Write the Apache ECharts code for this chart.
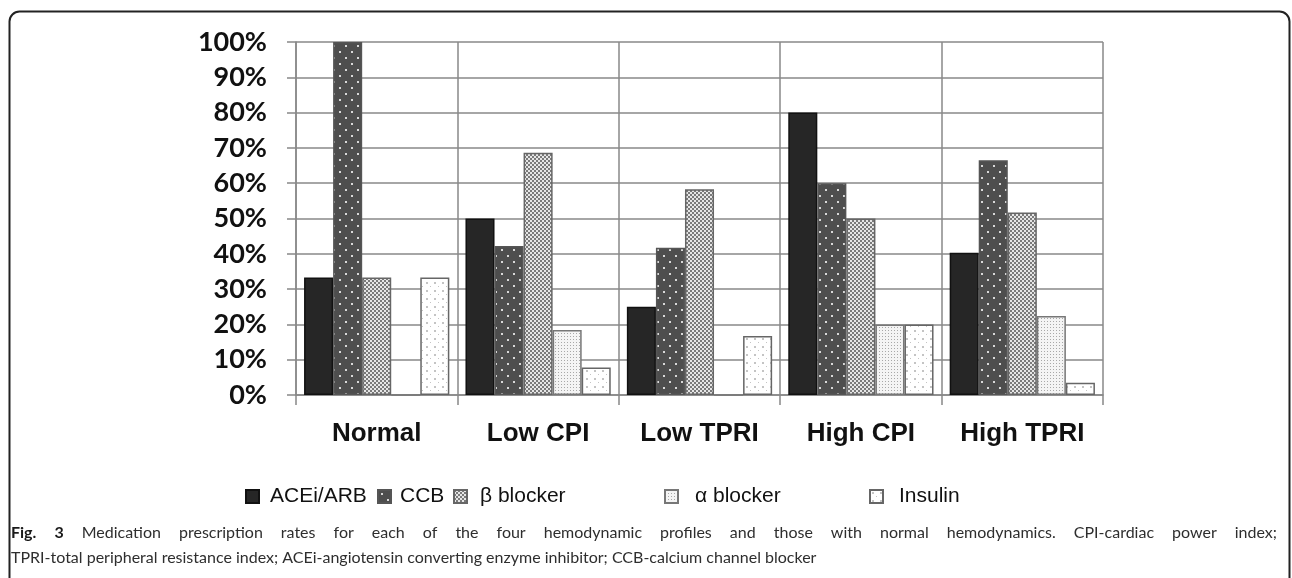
<!DOCTYPE html>
<html>
<head>
<meta charset="utf-8">
<script src="https://cdn.jsdelivr.net/npm/echarts@6/dist/echarts.min.js"></script>
<style>
  html, body { margin: 0; padding: 0; background: #ffffff; }
  #chart { width: 1292px; height: 578px; }
</style>
</head>
<body>
<div id="chart"></div>
<script>
// Hemodynamic profile groups
const categories = ['Normal', 'Low CPI', 'Low TPRI', 'High CPI', 'High TPRI'];

// Prescription rates (%) per medication class
const aceiArb    = [33.3, 50.0, 25.0, 80.0, 40.3];
const ccb        = [100.0, 42.2, 41.7, 60.0, 66.5];
const betaBlock  = [33.3, 68.6, 58.3, 50.0, 51.7];
const alphaBlock = [0, 18.4, 0, 20.0, 22.4];
const insulin    = [33.3, 7.8, 16.7, 20.0, 3.5];

const seriesNames = ['ACEi/ARB', 'CCB', 'β blocker', 'α blocker', 'Insulin'];

const yTicks = { min: 0, max: 100, interval: 10 };

const captionLine1 = 'Fig. 3 Medication prescription rates for each of the four hemodynamic profiles and those with normal hemodynamics. CPI-cardiac power index;';
const captionLine2 = 'TPRI-total peripheral resistance index; ACEi-angiotensin converting enzyme inhibitor; CCB-calcium channel blocker';

// Small tiled canvases used as bar fill patterns
function makeTile(size, bg, paint) {
  const c = document.createElement('canvas');
  c.width = size; c.height = size;
  const g = c.getContext('2d');
  g.fillStyle = bg;
  g.fillRect(0, 0, size, size);
  paint(g);
  return c;
}

const solidDark = '#262626';

const dotsOnDark = makeTile(12, '#4e4e4e', g => {
  g.fillStyle = '#d8d8d8';
  g.fillRect(3, 3, 2, 2);
  g.fillRect(9, 9, 2, 2);
});

const fineChecker = makeTile(4, '#e6e6e6', g => {
  g.fillStyle = '#7a7a7a';
  g.fillRect(0, 0, 2, 2);
  g.fillRect(2, 2, 2, 2);
});

const lightDots = makeTile(3, '#f4f4f4', g => {
  g.fillStyle = '#a8a8a8';
  g.fillRect(0, 0, 1, 1);
});

const sparseDots = makeTile(8, '#ffffff', g => {
  g.fillStyle = '#c4c4c4';
  g.fillRect(2, 2, 2, 2);
  g.fillRect(6, 6, 1, 1);
});

const fills = [
  { color: solidDark, borderColor: '#111111' },
  { color: { image: dotsOnDark, repeat: 'repeat' }, borderColor: '#555555' },
  { color: { image: fineChecker, repeat: 'repeat' }, borderColor: '#666666' },
  { color: { image: lightDots, repeat: 'repeat' }, borderColor: '#777777' },
  { color: { image: sparseDots, repeat: 'repeat' }, borderColor: '#666666' }
];

const seriesData = [aceiArb, ccb, betaBlock, alphaBlock, insulin];

const series = seriesNames.map((name, i) => ({
  name: name,
  type: 'bar',
  data: seriesData[i],
  barGap: '0%',
  barCategoryGap: '10%',
  itemStyle: {
    color: fills[i].color,
    borderColor: fills[i].borderColor,
    borderWidth: 1.5
  },
  emphasis: { disabled: true },
  animation: false
}));

// One legend block per entry so each sits at its own spot in the row
const legendLefts = [245, 377, 453, 664, 869];
const legendTextGaps = [11, 9, 13, 17, 16];
const legends = seriesNames.map((name, i) => ({
  data: [name],
  left: legendLefts[i],
  top: 486,
  padding: 0,
  icon: 'rect',
  itemWidth: 13,
  itemHeight: 13,
  selectedMode: false,
  textStyle: {
    fontFamily: 'Liberation Sans, Arial, sans-serif',
    fontSize: 21,
    color: '#111111',
    padding: [0, 0, 0, legendTextGaps[i] - 5]
  }
}));

// Caption: first line is justified across the frame, second line is left aligned
const capFont = 'Lato, Open Sans, sans-serif';
const capSize = 16;
const capLeft = 11, capRight = 1277;
const capTop1 = 525, capTop2 = 550;

function buildJustifiedLine(text, boldWords, top) {
  const ctx = document.createElement('canvas').getContext('2d');
  const words = text.split(' ');
  const widths = words.map((w, i) => {
    ctx.font = (i < boldWords ? 'bold ' : '') + capSize + 'px ' + capFont;
    return ctx.measureText(w).width;
  });
  const total = widths.reduce((a, b) => a + b, 0);
  const gap = (capRight - capLeft - total) / (words.length - 1);
  let x = capLeft;
  return words.map((w, i) => {
    const el = {
      type: 'text',
      silent: true,
      x: x,
      y: top,
      style: {
        text: w,
        fontFamily: capFont,
        fontSize: capSize,
        fontWeight: i < boldWords ? 'bold' : 'normal',
        fill: i < boldWords ? '#1a1a1a' : '#2e2e2e',
        textVerticalAlign: 'top'
      }
    };
    x += widths[i] + gap;
    return el;
  });
}

const captionElements = buildJustifiedLine(captionLine1, 2, capTop1).concat([{
  type: 'text',
  silent: true,
  x: capLeft,
  y: capTop2,
  style: {
    text: captionLine2,
    fontFamily: capFont,
    fontSize: capSize,
    fill: '#2e2e2e',
    textVerticalAlign: 'top'
  }
}]);

const chart = echarts.init(document.getElementById('chart'), null, { renderer: 'canvas' });

chart.setOption({
  backgroundColor: '#ffffff',
  animation: false,
  grid: { left: 296, right: 189, top: 42, bottom: 183, containLabel: false },
  legend: legends,
  xAxis: {
    type: 'category',
    data: categories,
    boundaryGap: true,
    axisLine: { show: true, lineStyle: { color: '#888888', width: 1.5 } },
    axisTick: { show: true, length: 10, interval: 0, lineStyle: { color: '#888888', width: 1.5 } },
    splitLine: { show: true, interval: 0, lineStyle: { color: '#888888', width: 1.5 } },
    axisLabel: {
      interval: 0,
      margin: 26,
      fontFamily: 'Liberation Sans, Arial, sans-serif',
      fontWeight: 'bold',
      fontSize: 26,
      color: '#111111'
    }
  },
  yAxis: {
    type: 'value',
    min: yTicks.min,
    max: yTicks.max,
    interval: yTicks.interval,
    axisLine: { show: true, lineStyle: { color: '#888888', width: 1.5 } },
    axisTick: { show: true, length: 9, lineStyle: { color: '#888888', width: 1.5 } },
    splitLine: { show: true, lineStyle: { color: '#888888', width: 1.5 } },
    axisLabel: {
      margin: 29,
      formatter: '{value}%',
      fontFamily: 'Lato, Open Sans, sans-serif',
      fontWeight: 'bold',
      fontSize: 27,
      color: '#111111'
    }
  },
  series: series,
  graphic: [
    {
      type: 'rect',
      silent: true,
      shape: { x: 9.5, y: 11.5, width: 1280, height: 620, r: 10 },
      style: { fill: 'none', stroke: '#222222', lineWidth: 2 }
    }
  ].concat(captionElements)
});
</script>
</body>
</html>
